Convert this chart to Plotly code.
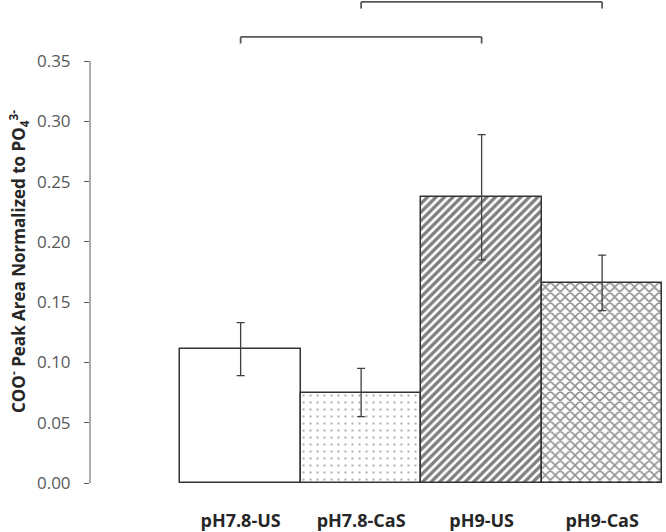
import plotly.graph_objects as go

categories = ["pH7.8-US", "pH7.8-CaS", "pH9-US", "pH9-CaS"]
values = [0.111, 0.075, 0.237, 0.166]
errors = [0.022, 0.020, 0.052, 0.023]
patterns = ["", ".", "/", "x"]
pattern_sizes = [8, 7, 6, 7]
pattern_solidity = [0.3, 0.1, 0.55, 0.4]
pattern_colors = ["#000000", "#777777", "#000000", "#222222"]

y_ticks = [0.00, 0.05, 0.10, 0.15, 0.20, 0.25, 0.30, 0.35]
y_tick_labels = ["0.00", "0.05", "0.10", "0.15", "0.20", "0.25", "0.30", "0.35"]

# significance brackets: (left index, right index, height)
brackets = [(0, 2, 0.370), (1, 3, 0.399)]
bracket_leg = 0.0055

fig = go.Figure()
for i, cat in enumerate(categories):
    fig.add_trace(go.Bar(
        x=[cat], y=[values[i]],
        marker=dict(
            color="white",
            line=dict(color="#333333", width=1.5),
            pattern=dict(shape=patterns[i], fgcolor=pattern_colors[i],
                         bgcolor="white", size=pattern_sizes[i],
                         solidity=pattern_solidity[i], fillmode="overlay"),
        ),
        error_y=dict(type="data", array=[errors[i]], visible=True,
                     color="#404040", thickness=1.3, width=4),
        showlegend=False,
    ))

shapes = [dict(type="line", xref="paper", yref="y", x0=0, x1=0,
               y0=0, y1=max(y_ticks), line=dict(color="#595959", width=1))]
for a, b, h in brackets:
    for (x0, y0, x1, y1) in [(a, h, b, h), (a, h, a, h - bracket_leg), (b, h, b, h - bracket_leg)]:
        shapes.append(dict(type="line", xref="x", yref="y", x0=x0, y0=y0, x1=x1, y1=y1,
                           line=dict(color="#595959", width=1.8)))

fig.update_layout(
    template="none",
    width=666, height=532,
    margin=dict(l=90, r=0, t=0, b=49, autoexpand=False),
    paper_bgcolor="white", plot_bgcolor="white",
    bargap=0,
    font=dict(family="Open Sans", color="#595959"),
    shapes=shapes,
    xaxis=dict(type="category", categoryorder="array", categoryarray=categories,
               range=[-1.25, 3.53], showline=False, showgrid=False, zeroline=False,
               automargin=False, ticks="", ticklabelstandoff=25,
               tickfont=dict(family="Open Sans", size=18, color="#262626", weight="bold")),
    yaxis=dict(range=[0, 0.4006], tickvals=y_ticks, ticktext=y_tick_labels,
               showline=False, showgrid=False, zeroline=False, automargin=False,
               ticks="outside", ticklen=5, tickcolor="#595959", tickwidth=1,
               ticklabelstandoff=10,
               tickfont=dict(family="Open Sans", size=17, color="#595959")),
    annotations=[dict(
        text="COO<sup>-</sup> Peak Area Normalized to PO<sub>4</sub><sup>3-</sup>",
        xref="paper", yref="paper", x=-(90 - 18) / 576, y=(483 - 262) / 483,
        xanchor="center", yanchor="middle", textangle=-90, showarrow=False,
        font=dict(family="Open Sans", size=17, color="#262626", weight="bold"),
    )],
)

fig.write_html("out.html", config={"displayModeBar": False},
               post_script="document.body.style.margin='0';document.body.style.overflow='hidden';")
